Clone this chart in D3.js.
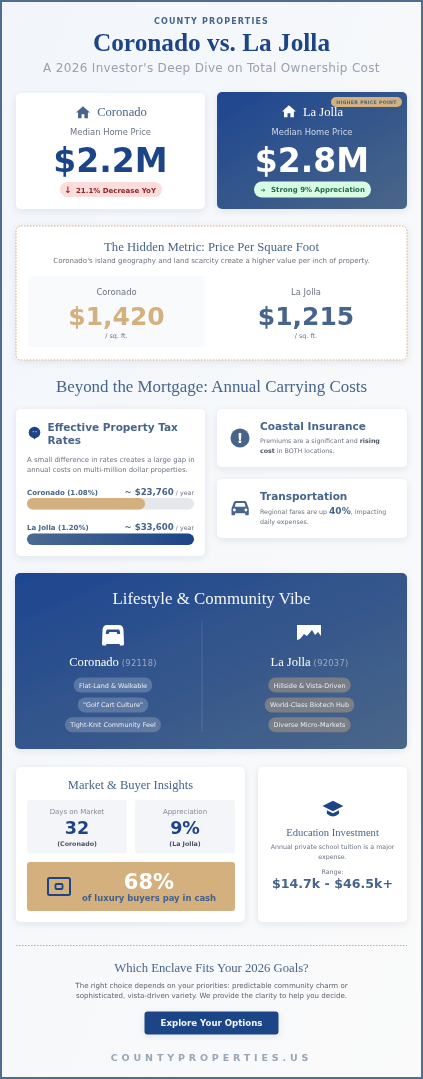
<!DOCTYPE html>
<html>
<head>
<meta charset="utf-8">
<title>Coronado vs. La Jolla</title>
<script src="https://cdn.jsdelivr.net/npm/d3@7"></script>
<style>
    html, body {margin: 0; padding: 0; background: #f5f7fb;}
    svg {display: block; filter: blur(0.45px);}
    text {font-family: "DejaVu Sans", sans-serif;}
    .serif {font-family: "Liberation Serif", serif;}
    .sans {font-family: "DejaVu Sans", sans-serif;}
</style>
</head>
<body>
<div id="chart"></div>
<script>
//Chart Values
const towns = ["Coronado", "La Jolla"];
const medianPrices = ["$2.2M", "$2.8M"];
const priceTrends = ["21.1% Decrease YoY", "Strong 9% Appreciation"];
const pricePerSqFt = ["$1,420", "$1,215"];
const taxRates = ["1.08%", "1.20%"];
const annualTax = [23760, 33600];
const zipCodes = ["92118", "92037"];
const coronadoTags = ["Flat-Land & Walkable", "\"Golf Cart Culture\"", "Tight-Knit Community Feel"];
const laJollaTags = ["Hillside & Vista-Driven", "World-Class Biotech Hub", "Diverse Micro-Markets"];

const navy = "#1e4488", slate = "#47658c", tan = "#d4b07f", grey = "#6b7280";

const svg = d3.select("#chart").append("svg").attr("width", 423).attr("height", 1079);
const defs = svg.append("defs");

function gradient(id, x2, y2, stops) {
    let g = defs.append("linearGradient").attr("id", id)
        .attr("x1", 0).attr("y1", 0).attr("x2", x2).attr("y2", y2);
    stops.forEach((c, i) => g.append("stop").attr("offset", i / (stops.length - 1)).attr("stop-color", c));
}
gradient("pageBg", 1, 1, ["#f2f6fb", "#fafafa"]);
gradient("blueCard", 1, 1, ["#1e4690", "#4a6688"]);
gradient("barBlue", 1, 0, ["#4a6a90", "#1e4488"]);

let shadow = defs.append("filter").attr("id", "shadow")
    .attr("x", "-15%").attr("y", "-15%").attr("width", "130%").attr("height", "135%");
shadow.append("feDropShadow").attr("dx", 0).attr("dy", 2).attr("stdDeviation", 3.5)
    .attr("flood-color", "#1e3a5f").attr("flood-opacity", 0.09);

//Helpers
function box(x, y, w, h, o = {}) {
    return svg.append("rect").attr("x", x).attr("y", y).attr("width", w).attr("height", h)
        .attr("rx", o.r === undefined ? 5 : o.r)
        .attr("fill", o.fill || "#fff")
        .attr("stroke", o.stroke || "none")
        .attr("stroke-width", o.sw || 0)
        .attr("stroke-dasharray", o.dash || null)
        .attr("filter", o.shadow === false ? null : "url(#shadow)");
}

function label(x, y, parts, o = {}) {
    if (!Array.isArray(parts)) parts = [parts];
    let t = svg.append("text").attr("x", x).attr("y", y)
        .attr("text-anchor", o.anchor || "middle")
        .attr("class", o.serif ? "serif" : null)
        .attr("font-size", o.size || 7)
        .attr("font-weight", o.weight || 400)
        .attr("letter-spacing", o.ls || 0)
        .attr("fill", o.fill || grey);
    parts.forEach(p => {
        if (typeof p === "string") p = {text: p};
        t.append("tspan").text(p.text)
            .attr("class", p.sans ? "sans" : null)
            .attr("font-weight", p.weight || null)
            .attr("font-size", p.size || null)
            .attr("letter-spacing", p.ls || null)
            .attr("fill", p.fill || null);
    });
    return t;
}

function icon(x, y, scale, d, fill) {
    return svg.append("path").attr("d", d).attr("fill", fill).attr("fill-rule", "evenodd")
        .attr("transform", "translate(" + x + "," + y + ") scale(" + scale + ")");
}

const housePath = "M12 2 L24 13 L20.5 13 L20.5 23 L14.5 23 L14.5 16 L9.5 16 L9.5 23 L3.5 23 L3.5 13 L0 13 Z";
const carPath = "M6 2 H18 Q20 2 21 4 L23 10 Q24 11 24 13 V21 Q24 22 23 22 H20 Q19 22 19 21 V19 H5 V21 Q5 22 4 22 H1 Q0 22 0 21 V13 Q0 11 1 10 L3 4 Q4 2 6 2 Z M6 5 L4.5 10 H19.5 L18 5 Z M4 12.5 A2 2 0 1 0 4 16.5 A2 2 0 1 0 4 12.5 Z M20 12.5 A2 2 0 1 0 20 16.5 A2 2 0 1 0 20 12.5 Z";
const golfCartPath = "M5 0 H17 Q21 0 21.5 5 L22 19 Q22 20.5 20.5 20.5 H18 L17.5 19 H4.5 L4 20.5 H1.5 Q0 20.5 0 19 L0.5 5 Q1 0 5 0 Z M5.5 4.5 Q4 4.5 3.8 9 H6.5 L7.5 7 H14.5 L15.5 9 H18.2 Q18 4.5 16.5 4.5 Z";
const mountainPath = "M0 0 H24 V11 L21 7 L18 10 L15 5 L10 11 L7 9 L3 14 L0 15 Z";
const capPath = "M12 2 L24 8 L12 14 L0 8 Z M5 13 L12 16.5 L19 13 V17 Q12 23 5 17 Z";

//Page Frame
svg.append("rect").attr("x", 1).attr("y", 1).attr("width", 421).attr("height", 1077)
    .attr("fill", "url(#pageBg)").attr("stroke", "#4d6d92").attr("stroke-width", 2);

//Header
label(211.5, 24, "COUNTY PROPERTIES", {size: 8, weight: 700, ls: 1.15, fill: slate});
label(211.5, 51, "Coronado vs. La Jolla", {size: 25.3, weight: 700, serif: true, fill: navy});
label(211.5, 72, "A 2026 Investor's Deep Dive on Total Ownership Cost", {size: 12, ls: 0.33, fill: "#9aa1ab"});

//Median Price Cards
box(16, 93, 189, 116);
box(217, 92, 190, 117, {fill: "url(#blueCard)"});

icon(76, 105, 0.58, housePath, slate);
label(122, 116, towns[0], {size: 12.6, serif: true, fill: slate});
label(110.5, 135, "Median Home Price", {size: 8.4, fill: grey});
label(110.5, 172, medianPrices[0], {size: 33, weight: 700, fill: navy});
box(60, 182, 102, 15, {r: 7.5, fill: "#fddcdc", shadow: false});
label(68, 193, "↓", {size: 9, weight: 700, fill: "#a51e1e"});
label(116, 192.5, priceTrends[0], {size: 7, weight: 700, fill: "#8f2323"});

icon(282, 104, 0.58, housePath, "#fff");
label(323, 116, towns[1], {size: 12.6, serif: true, fill: "#fff"});
label(312, 134.5, "Median Home Price", {size: 8.4, fill: "#d0d8e6"});
label(312, 172, medianPrices[1], {size: 33, weight: 700, fill: "#fff"});
box(254, 181.5, 117, 16, {r: 8, fill: "#d7fbe4", shadow: false});
label(263, 192, "➔", {size: 6, weight: 700, fill: "#1f6b45"});
label(318, 192, priceTrends[1], {size: 7, weight: 700, fill: "#1f6b45"});
box(331, 97, 71, 10, {r: 5, fill: tan, shadow: false});
label(366.5, 104, "HIGHER PRICE POINT", {size: 4.7, weight: 700, ls: 0.3, fill: slate});

//Price Per Square Foot
box(16, 226, 391, 134, {stroke: tan, sw: 1, dash: "1.5 1.5"});
label(211.5, 250.5, "The Hidden Metric: Price Per Square Foot", {size: 12.7, serif: true, fill: slate});
label(211.5, 262.5, "Coronado's island geography and land scarcity create a higher value per inch of property.", {size: 7.05});
box(28, 276, 177, 71, {r: 3, fill: "#f8fafc", shadow: false});
label(116.5, 294.5, towns[0], {size: 8.4});
label(116.5, 325, pricePerSqFt[0], {size: 25, weight: 700, fill: tan});
label(116.5, 338, "/ sq. ft.", {size: 6.4});
label(306, 294.5, towns[1], {size: 8.4});
label(306, 325, pricePerSqFt[1], {size: 25, weight: 700, fill: slate});
label(306, 338, "/ sq. ft.", {size: 6.4});

label(211.5, 392, "Beyond the Mortgage: Annual Carrying Costs", {size: 16.9, serif: true, fill: slate});

//Property Tax Card
box(16, 409, 189, 147);
svg.append("circle").attr("cx", 34.5).attr("cy", 432.5).attr("r", 5.8).attr("fill", navy);
svg.append("path").attr("d", "M33 437.5 L34.5 439.5 L36 437.5 Z").attr("fill", navy);
label(32, 434, "··", {size: 7, weight: 700, fill: "#9db2d4", anchor: "start"});
label(47.5, 431, "Effective Property Tax", {size: 10.5, weight: 700, anchor: "start", fill: slate});
label(47.5, 443.5, "Rates", {size: 10.5, weight: 700, anchor: "start", fill: slate});
label(27, 461.5, "A small difference in rates creates a large gap in", {size: 6.9, anchor: "start"});
label(27, 471.5, "annual costs on multi-million dollar properties.", {size: 6.9, anchor: "start"});

const barX = d3.scaleLinear().domain([0, d3.max(annualTax)]).range([0, 167]);
const barY = d3.scaleOrdinal().domain(towns).range([498, 533.5]);

towns.forEach((town, i) => {
    let y = barY(town);
    label(27, y - 3.5, town + " (" + taxRates[i] + ")", {size: 7, weight: 700, anchor: "start", fill: slate});
    label(194, y - 3.5, [
        {text: "~ $" + d3.format(",")(annualTax[i]), size: 8.6, weight: 700, fill: slate},
        {text: " / year", size: 6.3, fill: grey}
    ], {anchor: "end"});
});

svg.selectAll(".track").data(towns).enter().append("rect").attr("class", "track")
    .attr("x", barX(0) + 27).attr("y", d => barY(d))
    .attr("width", barX.range()[1]).attr("height", 11.5).attr("rx", 5.75).attr("fill", "#e5e7eb");
svg.selectAll(".bar").data(annualTax).enter().append("rect").attr("class", "bar")
    .attr("x", barX(0) + 27).attr("y", (d, i) => barY(towns[i]))
    .attr("width", d => barX(d)).attr("height", 11.5).attr("rx", 5.75)
    .attr("fill", (d, i) => i === 0 ? tan : "url(#barBlue)");

//Insurance Card
box(217, 409, 190, 58);
svg.append("circle").attr("cx", 240).attr("cy", 438).attr("r", 9.5).attr("fill", slate);
label(240, 443, "!", {size: 14, weight: 700, fill: "#fff"});
label(260, 430, "Coastal Insurance", {size: 10.5, weight: 700, anchor: "start", fill: slate});
label(260, 443, ["Premiums are a significant and ", {text: "rising", weight: 700, fill: "#4b5563"}], {size: 6.3, anchor: "start"});
label(260, 453, [{text: "cost", weight: 700, fill: "#4b5563"}, " in BOTH locations."], {size: 6.3, anchor: "start"});

//Transportation Card
box(217, 479, 190, 59);
icon(231.5, 499.5, 0.72, carPath, slate);
label(260, 500, "Transportation", {size: 10.5, weight: 700, anchor: "start", fill: slate});
label(260, 514, ["Regional fares are up ", {text: "40%", weight: 700, size: 9.1, fill: slate}, ", impacting"], {size: 6.3, anchor: "start"});
label(260, 524, "daily expenses.", {size: 6.3, anchor: "start"});

//Lifestyle Panel
box(15, 573, 392, 176, {fill: "url(#blueCard)"});
label(211.5, 604, "Lifestyle & Community Vibe", {size: 16.9, serif: true, fill: "#f4f6fa"});
svg.append("line").attr("x1", 202).attr("x2", 202).attr("y1", 621).attr("y2", 732)
    .attr("stroke", "#fff").attr("stroke-opacity", 0.13);

icon(102, 625, 1, golfCartPath, "#fff");
icon(297, 625, 1, mountainPath, "#fff");
label(113, 666, [towns[0], {text: " (" + zipCodes[0] + ")", size: 8.3, ls: 0.3, sans: true, fill: "#9aa9c2"}], {size: 12.6, serif: true, fill: "#fff"});
label(309.5, 666, [towns[1], {text: " (" + zipCodes[1] + ")", size: 8.3, ls: 0.3, sans: true, fill: "#9aa9c2"}], {size: 12.6, serif: true, fill: "#fff"});

const tagY = d3.scalePoint().domain([0, 1, 2]).range([677.5, 717.3]);

function drawTags(tags, cx, fill) {
    tags.forEach((tag, i) => {
        let y = tagY(i);
        let bg = svg.append("rect").attr("y", y).attr("height", 15).attr("rx", 7.5).attr("fill", fill);
        let t = label(cx, y + 10, tag, {size: 6.45, fill: "#e6eaf2"});
        let w = t.node().getComputedTextLength() + 10.5;
        bg.attr("x", cx - w / 2).attr("width", w);
    });
}
drawTags(coronadoTags, 113, "rgba(255,255,255,0.2)");
drawTags(laJollaTags, 309.5, "rgba(212,176,127,0.4)");

//Market Insights Card
box(16, 767, 229, 155);
label(130.5, 789, "Market & Buyer Insights", {size: 12.5, serif: true, fill: slate});
box(27, 800, 100, 53.5, {r: 3, fill: "#f3f5f8", shadow: false});
box(135, 800, 100, 53.5, {r: 3, fill: "#f3f5f8", shadow: false});
label(77, 813.5, "Days on Market", {size: 7, fill: "#858c98"});
label(77, 834, "32", {size: 17.5, weight: 700, fill: navy});
label(77, 845.5, "(Coronado)", {size: 6.3, weight: 700, fill: "#4b5563"});
label(185, 813.5, "Appreciation", {size: 7, fill: "#858c98"});
label(185, 834, "9%", {size: 17.5, weight: 700, fill: navy});
label(185, 845.5, "(La Jolla)", {size: 6.3, weight: 700, fill: "#4b5563"});

box(27, 862, 208, 49, {r: 3, fill: tan, shadow: false});
svg.append("rect").attr("x", 48).attr("y", 878).attr("width", 22).attr("height", 17).attr("rx", 1.5)
    .attr("fill", "none").attr("stroke", navy).attr("stroke-width", 2);
svg.append("rect").attr("x", 55.5).attr("y", 884).attr("width", 7).attr("height", 5).attr("rx", 1)
    .attr("fill", "none").attr("stroke", navy).attr("stroke-width", 1.8);
label(149, 889, "68%", {size: 21, weight: 700, fill: "#fff"});
label(149, 901, "of luxury buyers pay in cash", {size: 8.45, weight: 700, fill: "#44608a"});

//Education Card
box(258, 767, 149, 155);
icon(322.5, 799, 0.87, capPath, navy);
label(332.5, 836, "Education Investment", {size: 10.6, serif: true, fill: slate});
label(332.5, 848.5, "Annual private school tuition is a major", {size: 6.3});
label(332.5, 858.5, "expense.", {size: 6.3});
label(332.5, 874, "Range:", {size: 6.3});
label(332.5, 888, "$14.7k - $46.5k+", {size: 12.6, weight: 700, fill: slate});

//Footer
svg.append("line").attr("x1", 16).attr("x2", 407).attr("y1", 945.5).attr("y2", 945.5)
    .attr("stroke", "#d4a868").attr("stroke-dasharray", "1.5 1.5").attr("stroke-width", 1);
label(211.5, 972, "Which Enclave Fits Your 2026 Goals?", {size: 12.7, serif: true, fill: slate});
label(211.5, 987.5, "The right choice depends on your priorities: predictable community charm or", {size: 7.05, fill: "#5b6370"});
label(211.5, 997.5, "sophisticated, vista-driven variety. We provide the clarity to help you decide.", {size: 7.05, fill: "#5b6370"});
box(144.5, 1011.5, 134, 23, {r: 3, fill: navy});
label(211.5, 1025.5, "Explore Your Options", {size: 8.6, weight: 700, fill: "#f2f5fa"});
label(211.5, 1060.5, "COUNTYPROPERTIES.US", {size: 9.5, weight: 700, ls: 3.85, fill: "#98a6b8"});
</script>
</body>
</html>
